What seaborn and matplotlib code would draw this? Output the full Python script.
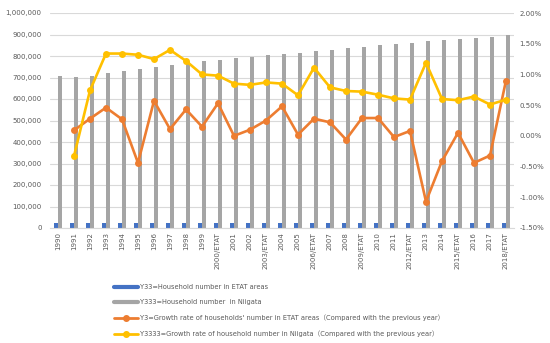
import numpy as np
import matplotlib
matplotlib.use("Agg")
import matplotlib.pyplot as plt
import matplotlib.ticker as mticker
from matplotlib.lines import Line2D
import pandas as pd
import seaborn as sns

sns.set_style("white")
plt.rcParams['font.family'] = ['DejaVu Sans', 'Noto Sans CJK JP']

# data
years = ['1990', '1991', '1992', '1993', '1994', '1995', '1996', '1997', '1998', '1999',
         '2000/ETAT', '2001', '2002', '2003/ETAT', '2004', '2005', '2006/ETAT', '2007',
         '2008', '2009/ETAT', '2010', '2011', '2012/ETAT', '2013', '2014', '2015/ETAT',
         '2016', '2017', '2018/ETAT']

etat_households = [21900, 21920, 21980, 22080, 22140, 22040, 22170, 22190, 22290, 22320,
                   22440, 22440, 22460, 22520, 22630, 22630, 22690, 22740, 22730, 22800,
                   22860, 22860, 22880, 22640, 22550, 22560, 22460, 22390, 22590]

niigata_households = [706000, 703000, 709000, 720000, 729000, 738000, 748000, 760000, 771000,
                      776000, 783000, 789000, 797000, 805000, 811000, 816000, 824000, 830000,
                      837000, 844000, 850000, 854000, 861000, 868000, 875000, 879000, 885000,
                      890000, 896000]

# growth rates in %, from 1991 on
etat_growth = [0.09, 0.28, 0.46, 0.27, -0.44, 0.57, 0.11, 0.43, 0.15, 0.53, 0.00, 0.10,
               0.25, 0.48, 0.02, 0.28, 0.22, -0.06, 0.29, 0.29, -0.02, 0.08, -1.07, -0.41,
               0.05, -0.44, -0.32, 0.90]
niigata_growth = [-0.33, 0.74, 1.34, 1.34, 1.32, 1.25, 1.40, 1.22, 1.00, 0.98, 0.85, 0.83,
                  0.87, 0.85, 0.66, 1.11, 0.79, 0.73, 0.72, 0.67, 0.61, 0.59, 1.19, 0.60,
                  0.58, 0.64, 0.51, 0.59]

labels = ['Y33=Household number in ETAT areas',
          'Y333=Household number  in Niigata',
          "Y3=Growth rate of households' number in ETAT areas（Compared with the previous year）",
          'Y3333=Growth rate of household number in Niigata（Compared with the previous year）']

blue, grey, orange, yellow = '#4472C4', '#A5A5A5', '#ED7D31', '#FFC000'
txt = '#595959'

bars = pd.DataFrame({
    'year': years * 2,
    'value': etat_households + niigata_households,
    'series': ['etat'] * len(years) + ['niigata'] * len(years),
})

fig = plt.figure(figsize=(5.5, 3.43), dpi=100)
ax = fig.add_axes([50 / 550, 1 - 228 / 343, 464 / 550, 215 / 343])

sns.barplot(data=bars, x='year', y='value', hue='series', order=years,
            palette=[blue, grey], width=0.56, gap=0.1, linewidth=0,
            saturation=1, legend=False, ax=ax)

ax.set_ylim(0, 1000000)
ax.yaxis.set_major_locator(mticker.MultipleLocator(100000))
ax.yaxis.set_major_formatter(mticker.FuncFormatter(lambda v, p: f'{int(v):,}'))
ax.yaxis.grid(True, color='#D9D9D9', lw=0.8)
ax.set_axisbelow(True)
ax.set_xlabel('')
ax.set_ylabel('')
for s in ['top', 'right', 'left']:
    ax.spines[s].set_visible(False)
ax.spines['bottom'].set_color('#D9D9D9')
ax.tick_params(axis='y', length=0, labelsize=5, labelcolor=txt, pad=6)
ax.tick_params(axis='x', which='major', length=0, labelsize=5, labelcolor=txt,
               labelrotation=90, pad=3)
ax.set_xticks(np.arange(len(years) + 1) - 0.5, minor=True)
ax.tick_params(axis='x', which='minor', length=3, color='#D9D9D9')

ax2 = ax.twinx()
x_idx = np.arange(1, len(years))
sns.lineplot(x=x_idx, y=etat_growth, ax=ax2, color=orange, lw=1.9, marker='o',
             markersize=5, markeredgewidth=0)
sns.lineplot(x=x_idx, y=niigata_growth, ax=ax2, color=yellow, lw=1.9, marker='o',
             markersize=5, markeredgewidth=0)
ax2.set_ylim(-1.5, 2.0)
ax2.yaxis.set_major_locator(mticker.MultipleLocator(0.5))
ax2.yaxis.set_major_formatter(mticker.FuncFormatter(lambda v, p: f'{v:.2f}%'))
ax2.tick_params(axis='y', length=0, labelsize=5, labelcolor=txt, pad=4)
ax2.grid(False)
for s in ax2.spines.values():
    s.set_visible(False)
ax.set_xlim(-0.5, len(years) - 0.5)

handles = [Line2D([], [], color=blue, lw=3),
           Line2D([], [], color=grey, lw=3),
           Line2D([], [], color=orange, lw=2, marker='o', markersize=4, markevery=[1]),
           Line2D([], [], color=yellow, lw=2, marker='o', markersize=4, markevery=[1])]
for h in handles[2:]:
    h.set_xdata([0, 0.5, 1])
leg = fig.legend(handles, labels, loc='upper left', bbox_to_anchor=(108 / 550, 1 - 278 / 343),
                 frameon=False, fontsize=4.8, labelcolor=txt, handlelength=3.6,
                 handletextpad=0.3, labelspacing=1.4)

fig.savefig('out.png', dpi=100)
